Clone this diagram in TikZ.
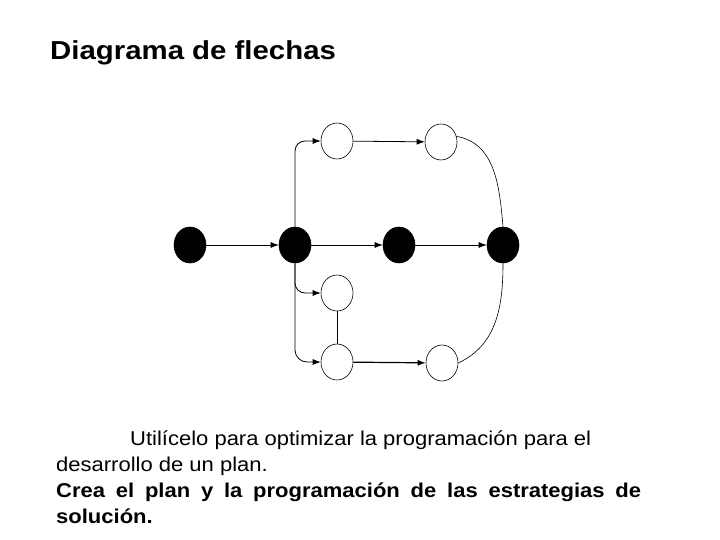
\documentclass[tikz,border=0pt]{standalone}
\usepackage{fontspec}
\setmainfont{Liberation Sans}
\newfontfamily\titlefont[FakeStretch=1.13]{Liberation Sans}
\newfontfamily\bodyfont[FakeStretch=1.1]{Liberation Sans}
\usepackage{tikz}
\usetikzlibrary{arrows,arrows.meta,shapes.geometric}
\tikzstyle{event} = [
  draw,
  ellipse,
  fill=white,
  line width=0.6pt,
  minimum width=32pt,
  minimum height=36pt,
  inner sep=0pt,
]
\tikzstyle{milestone} = [
  event,
  fill=black,
]
\tikzstyle{flow} = [
  -{Latex[length=8pt,width=6pt]},
  line width=0.8pt,
]
\tikzstyle{link} = [
  line width=0.6pt,
]

\begin{document}
\begin{tikzpicture}[
    x=1pt,
    y=-1pt,
  ]
  \useasboundingbox (0,0) rectangle (720,540);
  \node[
    anchor=base west,
    inner sep=0pt,
    font=\titlefont\bfseries\fontsize{26}{30}\selectfont,
  ](title) at (50,60){Diagrama de flechas};
  % events
  \node[milestone] (start) at (190,245) {};
  \node[milestone] (split) at (295,245) {};
  \node[milestone] (middle) at (399,245) {};
  \node[milestone] (finish) at (503,245) {};
  \node[event] (topa) at (337,141) {};
  \node[event] (topb) at (441,142) {};
  \node[event] (mid) at (337,293) {};
  \node[event] (lowa) at (337,362) {};
  \node[event] (lowb) at (442,363) {};
  % activities
  \draw[flow] (start) -- (split);
  \draw[flow] (split) -- (middle);
  \draw[flow] (middle) -- (finish);
  \draw[flow, rounded corners=10pt] (split.north) |- (topa.west);
  \draw[flow, rounded corners=10pt] (split.south) |- (mid.west);
  \draw[flow, rounded corners=12pt] (split.south) |- (lowa.west);
  \draw[flow] (topa) -- (topb);
  \draw[flow, line width=1.2pt] (lowa) -- (lowb);
  \draw[link] (mid) -- (lowa);
  \draw[link] (topb.20) to[out=-10, in=95] (finish.north);
  \draw[link] (lowb.east) to[out=25, in=-90] (finish.south);
  \node[
    anchor=north west,
    inner sep=0pt,
    text width=585pt,
    align=justify,
    font=\bodyfont\fontsize{20}{26}\selectfont,
  ](note) at (56,431){\hspace*{74pt}Utilícelo para optimizar la programación para el\newline
    desarrollo de un plan.\par
    \textbf{Crea el plan y la programación de las estrategias de\linebreak solución.}};
\end{tikzpicture}
\end{document}
